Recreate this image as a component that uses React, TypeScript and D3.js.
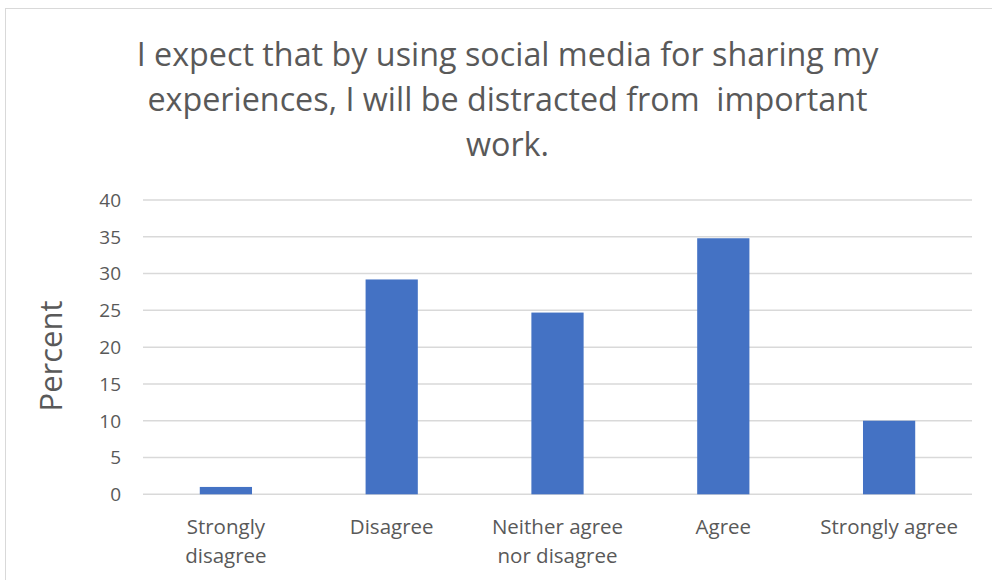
import React from "react";
import * as d3 from "d3";

const categories = ["Strongly disagree", "Disagree", "Neither agree nor disagree", "Agree", "Strongly agree"];
const categoryLines = [["Strongly", "disagree"], ["Disagree"], ["Neither agree", "nor disagree"], ["Agree"], ["Strongly agree"]];
const percents = [1.0, 29.2, 24.7, 34.8, 10.0];
const yTicks = [0, 5, 10, 15, 20, 25, 30, 35, 40];
const titleLines = [
  "I expect that by using social media for sharing my",
  "experiences, I will be distracted from  important",
  "work.",
];
const yTitle = "Percent";

const W = 992, H = 580;
const M = { left: 143, right: 972, top: 200, bottom: 494.3 };
const FONT = "'Open Sans', Lato, sans-serif";
const TEXT = "#595959";

export default function App() {
  const x = d3.scaleBand<string>().domain(categories).range([M.left, M.right]).paddingInner(0.685).paddingOuter(0.3425);
  const y = d3.scaleLinear().domain([0, 40]).range([M.bottom, M.top]);
  return (
    <svg width={W} height={H} style={{ position: "absolute", left: 0, top: 0, background: "#fff" }}>
      <rect x={5.5} y={8.5} width={W + 20} height={H + 20} fill="#fff" stroke="#d9d9d9" strokeWidth={1} />
      {titleLines.map((t, i) => (
        <text key={i} x={507.5} y={65.5 + i * 45} textAnchor="middle" fontFamily={FONT} fontSize={32.3} fill={TEXT} style={{ whiteSpace: "pre" }}>
          {t}
        </text>
      ))}
      {yTicks.map((t) => (
        <g key={t}>
          <line x1={M.left} x2={M.right} y1={y(t)} y2={y(t)} stroke="#d9d9d9" strokeWidth={1.5} />
          <text x={121} y={y(t)} dy="0.36em" textAnchor="end" fontFamily={FONT} fontSize={19} fill={TEXT}>
            {t}
          </text>
        </g>
      ))}
      {categories.map((c, i) => (
        <rect key={c} x={x(c)} y={y(percents[i])} width={x.bandwidth()} height={y(0) - y(percents[i])} fill="#4472C4" />
      ))}
      {categories.map((c, i) => (
        <text key={c} textAnchor="middle" fontFamily={FONT} fontSize={20.5} fill={TEXT}>
          {categoryLines[i].map((l, j) => (
            <tspan key={j} x={(x(c) as number) + x.bandwidth() / 2} y={534.3 + j * 28.7}>
              {l}
            </tspan>
          ))}
        </text>
      ))}
      <text transform={`translate(61.7,356) rotate(-90)`} textAnchor="middle" fontFamily={FONT} fontSize={31} fill={TEXT}>
        {yTitle}
      </text>
    </svg>
  );
}
